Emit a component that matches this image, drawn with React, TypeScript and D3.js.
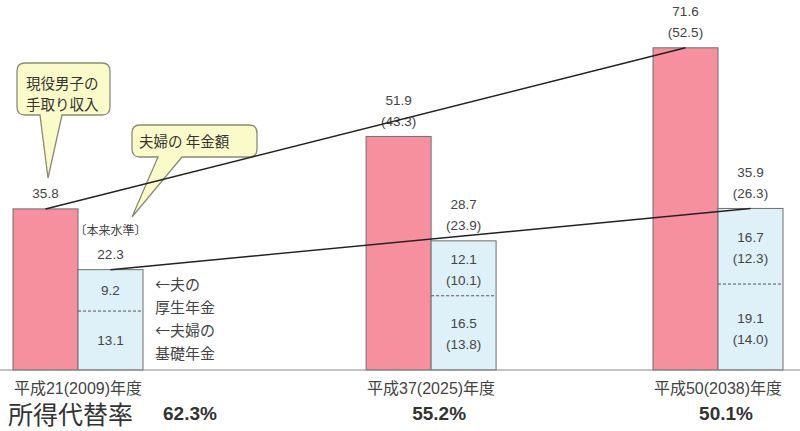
import { useEffect, useRef } from 'react';
import * as d3 from 'd3';

const yearLabels = ['平成21(2009)年度', '平成37(2025)年度', '平成50(2038)年度'];
const years = [2009, 2025, 2038];
const income = [35.8, 51.9, 71.6];
const incomeReal: (number | null)[] = [null, 43.3, 52.5];
const pension = [22.3, 28.7, 35.9];
const pensionReal: (number | null)[] = [null, 23.9, 26.3];
const employeePension = [9.2, 12.1, 16.7];
const employeeReal: (number | null)[] = [null, 10.1, 12.3];
const basicPension = [13.1, 16.5, 19.1];
const basicReal: (number | null)[] = [null, 13.8, 14.0];
const replacementRates = ['62.3%', '55.2%', '50.1%'];

const FONT = '"Liberation Sans", "Noto Sans CJK JP", sans-serif';
const JP = '"Noto Sans CJK JP", sans-serif';

export default function App() {
  const svgRef = useRef<SVGSVGElement>(null);

  useEffect(() => {
    document.body.style.margin = '0';
    if (!svgRef.current) return;
    const width = 800;
    const height = 431;
    const baseY = 370;
    const barW = 65;

    const svg = d3.select(svgRef.current);
    svg.selectAll('*').remove();
    svg.attr('width', width).attr('height', height).style('background', '#fff');

    const x = d3.scaleLinear().domain([2009, 2038]).range([13, 653]);
    const y = d3.scaleLinear().domain([0, 80]).range([baseY, 10]);
    const fmt = (v: number) => v.toFixed(1);

    const g = svg.append('g');

    // bubble helper
    const bubble = (
      x0: number, y0: number, x1: number, y1: number,
      tl: number, tr: number, tipX: number, tipY: number,
    ) => {
      const r = 8;
      const p = `M${x0 + r},${y0} H${x1 - r} Q${x1},${y0} ${x1},${y0 + r} V${y1 - r} Q${x1},${y1} ${x1 - r},${y1} H${tr} L${tipX},${tipY} L${tl},${y1} H${x0 + r} Q${x0},${y1} ${x0},${y1 - r} V${y0 + r} Q${x0},${y0} ${x0 + r},${y0} Z`;
      g.append('path')
        .attr('d', p)
        .attr('fill', '#fbfbc9')
        .attr('stroke', '#8a8a7a')
        .attr('stroke-width', 1.3);
    };

    years.forEach((yr, i) => {
      const x0 = x(yr);
      const xb = x0 + barW;

      // income bar
      g.append('rect')
        .attr('x', x0)
        .attr('y', y(income[i]))
        .attr('width', barW)
        .attr('height', baseY - y(income[i]))
        .attr('fill', '#f6909f')
        .attr('stroke', '#6e6e6e')
        .attr('stroke-width', 1);

      // pension bar
      g.append('rect')
        .attr('x', xb)
        .attr('y', y(pension[i]))
        .attr('width', barW)
        .attr('height', baseY - y(pension[i]))
        .attr('fill', '#def0f8')
        .attr('stroke', '#6e6e6e')
        .attr('stroke-width', 1);

      // split between employee and basic pension
      g.append('line')
        .attr('x1', xb)
        .attr('x2', xb + barW)
        .attr('y1', y(basicPension[i]))
        .attr('y2', y(basicPension[i]))
        .attr('stroke', '#555')
        .attr('stroke-dasharray', '3,2');

      const label = (tx: number, ty: number, t: string) =>
        g.append('text')
          .attr('x', tx)
          .attr('y', ty)
          .attr('text-anchor', 'middle')
          .attr('dominant-baseline', 'central')
          .attr('font-family', FONT)
          .attr('font-size', 13.5)
          .attr('fill', '#444')
          .text(t);

      const twoLine = (cx: number, top: number, v: number, real: number | null) => {
        if (real === null) {
          label(cx, top - 15, fmt(v));
        } else {
          label(cx, top - 36, fmt(v));
          label(cx, top - 15, `(${fmt(real)})`);
        }
      };

      twoLine(x0 + barW / 2, y(income[i]), income[i], incomeReal[i]);
      twoLine(xb + barW / 2, y(pension[i]), pension[i], pensionReal[i]);

      const inner = (cy: number, v: number, real: number | null) => {
        if (real === null) {
          label(xb + barW / 2, cy, fmt(v));
        } else {
          label(xb + barW / 2, cy - 9, fmt(v));
          label(xb + barW / 2, cy + 12, `(${fmt(real)})`);
        }
      };
      inner((y(pension[i]) + y(basicPension[i])) / 2, employeePension[i], employeeReal[i]);
      inner((y(basicPension[i]) + baseY) / 2, basicPension[i], basicReal[i]);

      // year label
      g.append('text')
        .attr('x', xb)
        .attr('y', 388)
        .attr('text-anchor', 'middle')
        .attr('dominant-baseline', 'central')
        .attr('font-family', FONT)
        .attr('font-size', 16)
        .attr('fill', '#444')
        .text(yearLabels[i]);

      // replacement rate
      g.append('text')
        .attr('x', i === 0 ? 163 : xb + 8)
        .attr('y', 413)
        .attr('text-anchor', i === 0 ? 'start' : 'middle')
        .attr('dominant-baseline', 'central')
        .attr('font-family', FONT)
        .attr('font-size', 19)
        .attr('font-weight', 700)
        .attr('fill', '#333')
        .text(replacementRates[i]);
    });

    // 〔本来水準〕 note above first pension bar
    g.append('text')
      .attr('x', x(years[0]) + barW * 1.5)
      .attr('y', y(pension[0]) - 40)
      .attr('text-anchor', 'middle')
      .attr('dominant-baseline', 'central')
      .attr('font-family', JP)
      .attr('font-size', 12)
      .attr('fill', '#444')
      .text('〔本来水準〕');

    // side notes
    const notes = ['←夫の', '厚生年金', '←夫婦の', '基礎年金'];
    const noteY = [283, 306, 329, 352];
    notes.forEach((t, i) => {
      g.append('text')
        .attr('x', x(years[0]) + barW * 2 + 12)
        .attr('y', noteY[i])
        .attr('dominant-baseline', 'central')
        .attr('font-family', JP)
        .attr('font-size', 15)
        .attr('fill', '#444')
        .text(t);
    });

    // baseline
    g.append('line')
      .attr('x1', 0)
      .attr('x2', width)
      .attr('y1', baseY)
      .attr('y2', baseY)
      .attr('stroke', '#888')
      .attr('stroke-width', 1.2);

    g.append('text')
      .attr('x', 8)
      .attr('y', 413)
      .attr('dominant-baseline', 'central')
      .attr('font-family', JP)
      .attr('font-size', 25)
      .attr('fill', '#333')
      .text('所得代替率');

    // callouts
    bubble(17, 63, 110, 115, 40, 62, 48, 178);
    bubble(132, 125, 257, 157, 158, 182, 132, 217);
    g.append('text')
      .attr('x', 26)
      .attr('y', 82)
      .attr('dominant-baseline', 'central')
      .attr('font-family', JP)
      .attr('font-size', 14.5)
      .attr('fill', '#333')
      .text('現役男子の');
    g.append('text')
      .attr('x', 26)
      .attr('y', 103)
      .attr('dominant-baseline', 'central')
      .attr('font-family', JP)
      .attr('font-size', 14.5)
      .attr('fill', '#333')
      .text('手取り収入');
    g.append('text')
      .attr('x', 139)
      .attr('y', 140)
      .attr('dominant-baseline', 'central')
      .attr('font-family', JP)
      .attr('font-size', 14.5)
      .attr('fill', '#333')
      .text('夫婦の 年金額');

    // trend lines
    const line = d3.line<[number, number]>();
    const last = years.length - 1;
    g.append('path')
      .attr('d', line([
        [x(years[0]) + barW / 2, y(income[0])],
        [x(years[last]) + barW / 2, y(income[last])],
      ]))
      .attr('fill', 'none')
      .attr('stroke', '#222')
      .attr('stroke-width', 1.5);
    g.append('path')
      .attr('d', line([
        [x(years[0]) + barW * 1.5, y(pension[0])],
        [x(years[last]) + barW * 1.5, y(pension[last])],
      ]))
      .attr('fill', 'none')
      .attr('stroke', '#222')
      .attr('stroke-width', 1.5);
  }, []);

  return <svg ref={svgRef} style={{ display: 'block' }} />;
}
